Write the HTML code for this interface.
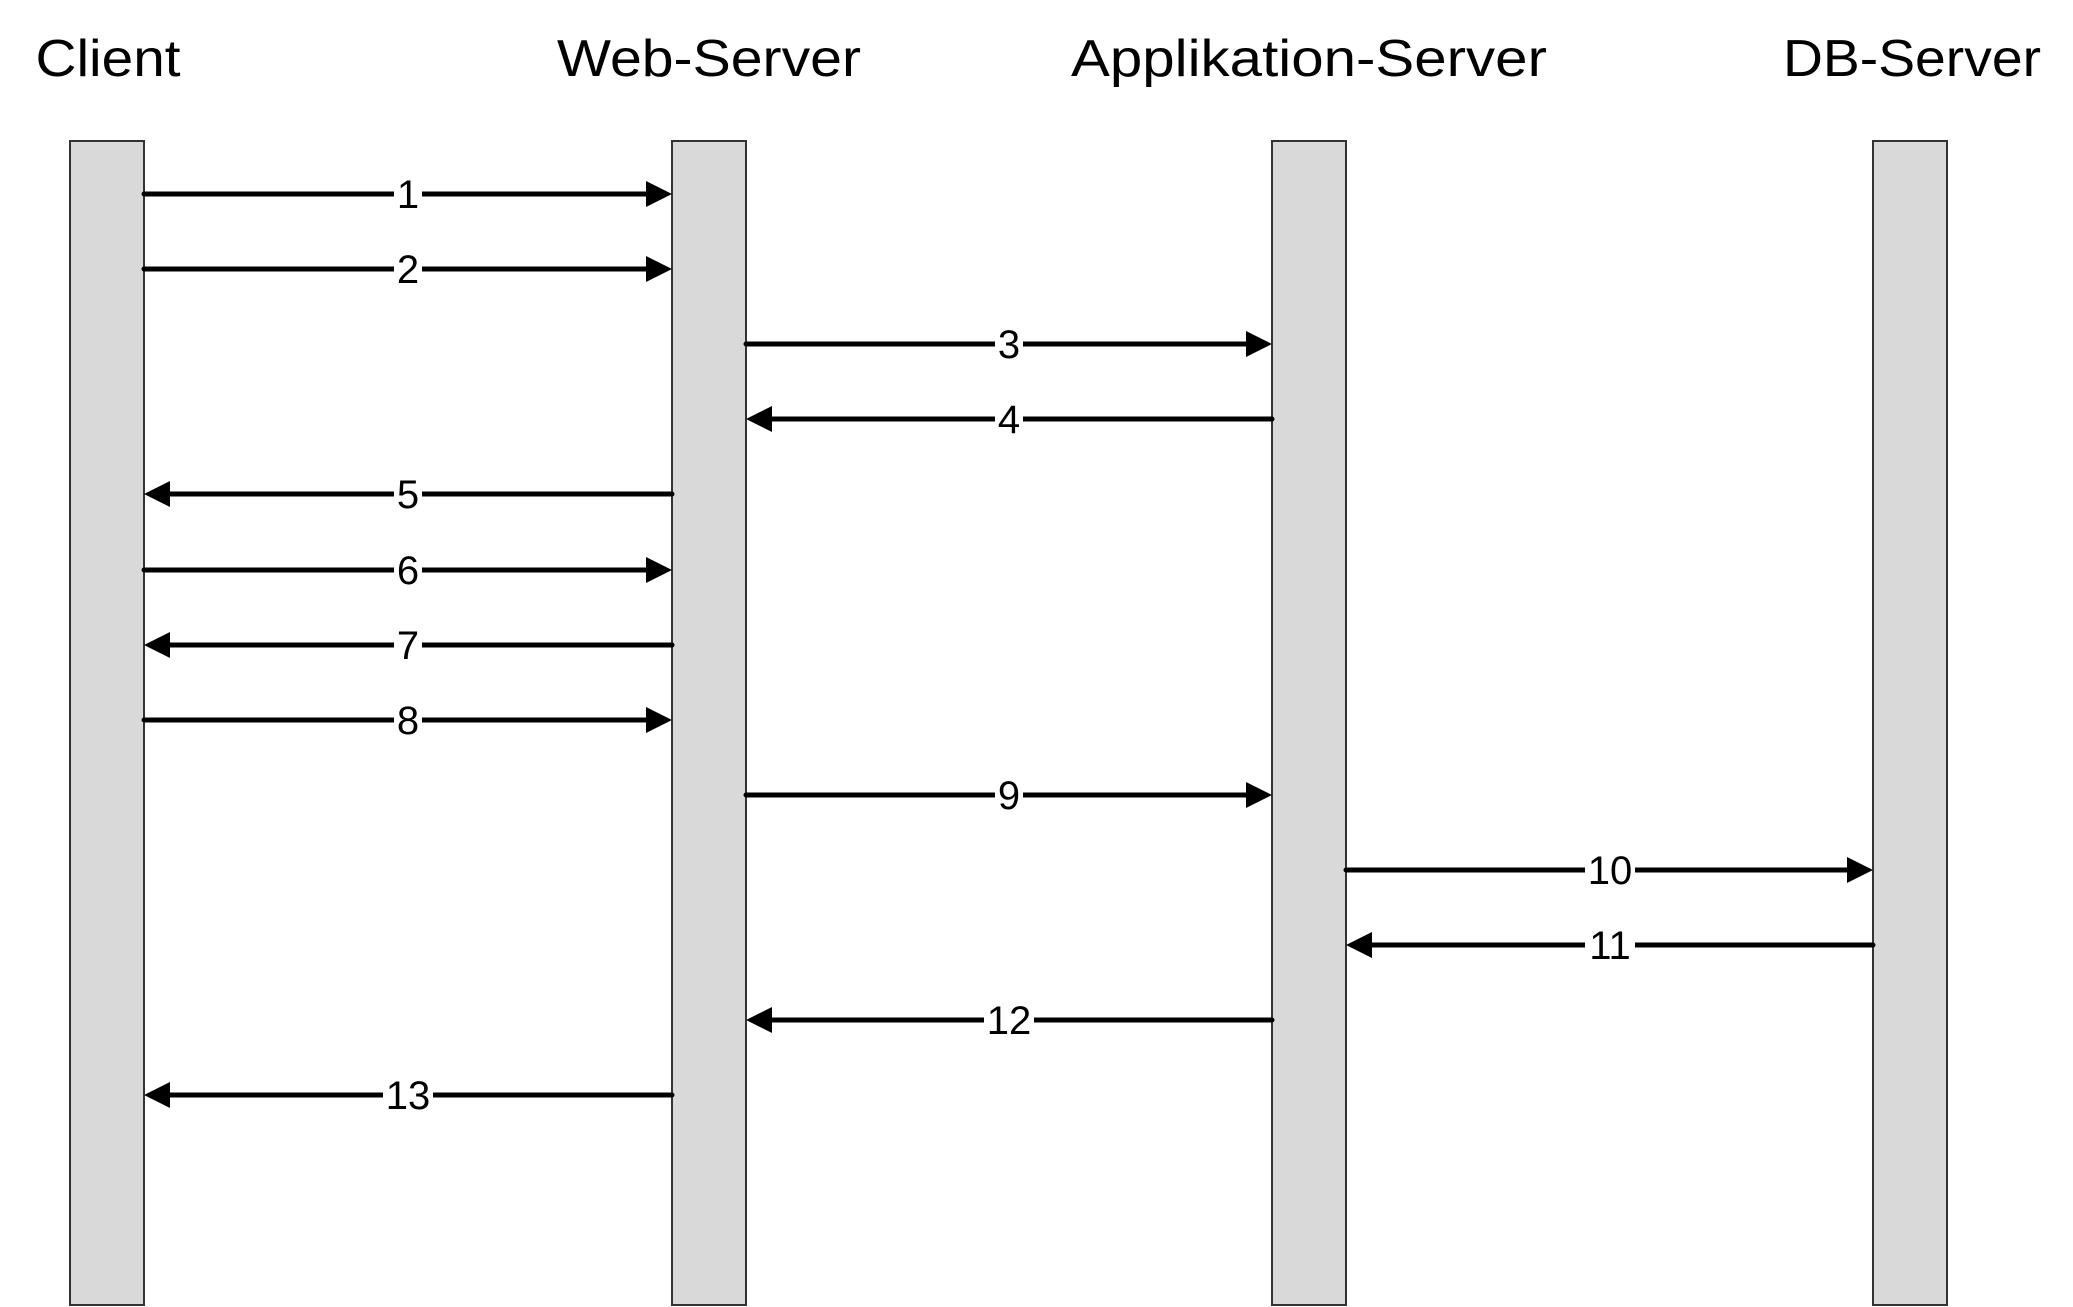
<!DOCTYPE html>
<html><head><meta charset="utf-8"><style>
html,body{margin:0;padding:0;background:#fff;}
svg{display:block;}
</style></head><body>
<svg width="2073" height="1307" viewBox="0 0 2073 1307" xmlns="http://www.w3.org/2000/svg">
<g font-family="'Liberation Sans', sans-serif" font-size="52" fill="#000" text-anchor="middle">
<text x="108" y="76" textLength="145" lengthAdjust="spacingAndGlyphs">Client</text>
<text x="709" y="76" textLength="304" lengthAdjust="spacingAndGlyphs">Web-Server</text>
<text x="1309" y="76" textLength="476" lengthAdjust="spacingAndGlyphs">Applikation-Server</text>
<text x="1912" y="76" textLength="258" lengthAdjust="spacingAndGlyphs">DB-Server</text>
</g>
<g fill="#d9d9d9" stroke="#333" stroke-width="2">
<rect x="70" y="141" width="74" height="1164"/>
<rect x="672" y="141" width="74" height="1164"/>
<rect x="1272" y="141" width="74" height="1164"/>
<rect x="1873" y="141" width="74" height="1164"/>
</g>
<g stroke="#000" stroke-width="5" stroke-linecap="round">
<line x1="144" y1="194" x2="652" y2="194"/>
<line x1="144" y1="269" x2="652" y2="269"/>
<line x1="746" y1="344" x2="1252" y2="344"/>
<line x1="1272" y1="419" x2="766" y2="419"/>
<line x1="672" y1="494" x2="164" y2="494"/>
<line x1="144" y1="570" x2="652" y2="570"/>
<line x1="672" y1="645" x2="164" y2="645"/>
<line x1="144" y1="720" x2="652" y2="720"/>
<line x1="746" y1="795" x2="1252" y2="795"/>
<line x1="1346" y1="870" x2="1853" y2="870"/>
<line x1="1873" y1="945" x2="1366" y2="945"/>
<line x1="1272" y1="1020" x2="766" y2="1020"/>
<line x1="672" y1="1095" x2="164" y2="1095"/>
</g>
<g fill="#000">
<polygon points="672,194 646,181 646,207"/>
<polygon points="672,269 646,256 646,282"/>
<polygon points="1272,344 1246,331 1246,357"/>
<polygon points="746,419 772,406 772,432"/>
<polygon points="144,494 170,481 170,507"/>
<polygon points="672,570 646,557 646,583"/>
<polygon points="144,645 170,632 170,658"/>
<polygon points="672,720 646,707 646,733"/>
<polygon points="1272,795 1246,782 1246,808"/>
<polygon points="1873,870 1847,857 1847,883"/>
<polygon points="1346,945 1372,932 1372,958"/>
<polygon points="746,1020 772,1007 772,1033"/>
<polygon points="144,1095 170,1082 170,1108"/>
</g>
<g fill="#fff">
<rect x="394" y="178" width="28" height="32"/>
<rect x="394" y="253" width="28" height="32"/>
<rect x="995" y="328" width="28" height="32"/>
<rect x="995" y="403" width="28" height="32"/>
<rect x="394" y="478" width="28" height="32"/>
<rect x="394" y="554" width="28" height="32"/>
<rect x="394" y="629" width="28" height="32"/>
<rect x="394" y="704" width="28" height="32"/>
<rect x="995" y="779" width="28" height="32"/>
<rect x="1585" y="854" width="50" height="32"/>
<rect x="1585" y="929" width="50" height="32"/>
<rect x="984" y="1004" width="50" height="32"/>
<rect x="383" y="1079" width="50" height="32"/>
</g>
<g font-family="'Liberation Sans', sans-serif" font-size="40" fill="#000" text-anchor="middle">
<text x="408" y="208">1</text>
<text x="408" y="283">2</text>
<text x="1009" y="358">3</text>
<text x="1009" y="433">4</text>
<text x="408" y="508">5</text>
<text x="408" y="584">6</text>
<text x="408" y="659">7</text>
<text x="408" y="734">8</text>
<text x="1009" y="809">9</text>
<text x="1610" y="884">10</text>
<text x="1610" y="959">11</text>
<text x="1009" y="1034">12</text>
<text x="408" y="1109">13</text>
</g>
</svg>
</body></html>
